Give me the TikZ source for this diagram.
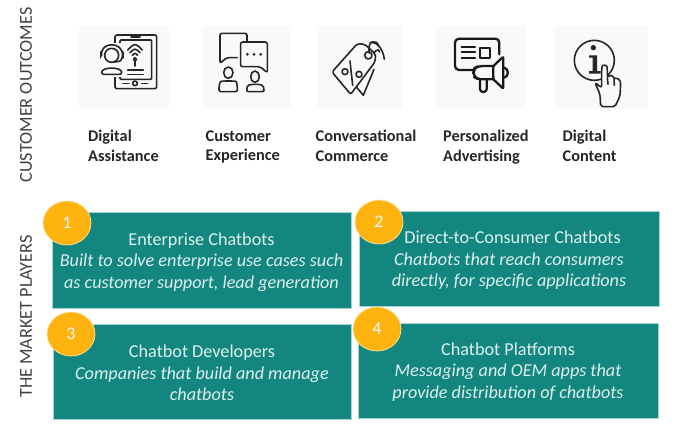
\documentclass[tikz,border=0pt]{standalone}
\usepackage{fontspec}
\setmainfont{Carlito}
\usetikzlibrary{shapes}
\definecolor{tealfill}{HTML}{138680}
\definecolor{tealedge}{HTML}{A5D6D2}
\definecolor{amberfill}{HTML}{FFB30F}
\definecolor{amberedge}{HTML}{FFE3A0}
\definecolor{tilefill}{HTML}{F9F9F9}
\definecolor{boxtext}{HTML}{DDF1EE}
\definecolor{icongrey}{HTML}{262626}
\tikzset{
  sidelabel/.style={rotate=90, font=\fontsize{18.2}{21}\selectfont, text=black!75},
  outcomelabel/.style={anchor=north west, align=left, inner sep=0, execute at begin node=\strut, font=\fontsize{16.3}{19.3}\selectfont\bfseries, text=black!85},
  playerbox/.style={draw=tealedge, line width=0.8pt, fill=tealfill, inner sep=0},
  playertext/.style={text=boxtext, align=center, inner sep=0, font=\fontsize{18.2}{21.5}\selectfont},
  numberdisc/.style={ellipse, draw=amberedge, line width=0.7pt, fill=amberfill, text=boxtext!40!white, inner sep=0,
    minimum width=48pt, minimum height=44pt, font=\fontsize{18}{21}\selectfont},
  icontile/.style={fill=tilefill, draw=none, inner sep=0},
  iconline/.style={draw=icongrey, line width=1.6pt, line join=round, line cap=round},
  iconbold/.style={draw=black!90, line width=2.3pt, line join=round, line cap=round},
}
\begin{document}
\begin{tikzpicture}[x=1pt, y=-1pt]
    \useasboundingbox (0, 0) rectangle (690, 442);
    %% side labels
    \draw (26, 95) node[sidelabel](outcomes){CUSTOMER OUTCOMES} ;
    \draw (26, 316.5) node[sidelabel](players){THE MARKET PLAYERS} ;
    %% icon tiles
    \draw (124, 67) node[icontile, minimum width=90pt, minimum height=82pt](tile0){} ;
    \draw (247, 67) node[icontile, minimum width=88pt, minimum height=82pt](tile1){} ;
    \draw (359.5, 67) node[icontile, minimum width=85pt, minimum height=82pt](tile2){} ;
    \draw (481, 67) node[icontile, minimum width=90pt, minimum height=82pt](tile3){} ;
    \draw (601.5, 67) node[icontile, minimum width=93pt, minimum height=82pt](tile4){} ;
    %% -- digital assistance
    \begin{scope}[shift={(85,26)}, scale=1/3]
        \draw[iconline, rounded corners=2pt] (90,27) rectangle (215,188) ;
        \draw[iconline, rounded corners=1pt] (105,42) rectangle (200,160) ;
        \draw[iconline] (138,33) -- (165,33) ;
        \draw[iconline] (114,172) -- (132,172) ;
        \draw[iconline] (170,172) -- (188,172) ;
        \draw[iconline] (150,172) circle[radius=7] ;
        \draw[iconline] (128,72) .. controls (150,50) .. (172,72) ;
        \draw[iconline] (135,80) .. controls (150,66) .. (165,80) ;
        \draw[iconline] (142,88) .. controls (150,80) .. (158,88) ;
        \draw[iconline] (150,100) circle[radius=5] ;
        \draw[iconline] (150,105) -- (150,120) ;
        \draw[iconline] (128,132) -- (175,132) ;
        \draw[iconline] (128,146) -- (175,146) ;
        \fill[tilefill] (40,52) rectangle (120,152) ;
        \draw[iconline] (80,88) circle[radius=21] ;
        \draw[iconline] (50,90) .. controls (42,45) and (118,45) .. (112,90) ;
        \draw[iconline] (46,78) -- (46,96) ;
        \draw[iconline] (114,78) -- (114,96) ;
        \draw[iconline] (112,92) .. controls (108,106) .. (88,108) ;
        \draw[iconline, rounded corners=2pt] (50,145) .. controls (50,122) and (110,122) .. (110,145) -- cycle ;
    \end{scope}
    %% -- customer experience
    \begin{scope}[shift={(205,26)}, scale=1/3]
        \draw[iconline, rounded corners=2pt] (126,46) -- (126,22) -- (45,22) -- (45,112) -- (65,95) -- (97,95) ;
        \draw[iconline, rounded corners=2pt] (107,48) -- (187,48) -- (187,140) -- (165,122) -- (107,122) -- cycle ;
        \fill[icongrey] (127,85) circle[radius=4.5] ;
        \fill[icongrey] (147,85) circle[radius=4.5] ;
        \fill[icongrey] (167,85) circle[radius=4.5] ;
        \draw[iconline] (70,140) ellipse[x radius=14, y radius=17] ;
        \draw[iconline, rounded corners=2pt] (42,197) -- (42,180) .. controls (46,166) .. (58,165) -- (84,165) .. controls (94,166) .. (97,180) -- (97,197) -- cycle ;
        \draw[iconline] (150,152) ellipse[x radius=13, y radius=17] ;
        \draw[iconline, rounded corners=2pt] (125,197) -- (125,188) .. controls (128,178) .. (138,175) -- (163,175) .. controls (174,178) .. (177,188) -- (177,197) -- cycle ;
    \end{scope}
    %% -- conversational commerce
    \begin{scope}[shift={(320,26)}, scale=1/3]
        \draw[iconline] (110,184) -- (130,208) -- (162,130) ;
        \draw[iconline, fill=tilefill, rounded corners=2pt] (36,138) -- (112,53) -- (135,55) -- (167,85) -- (165,108) -- (92,205) -- cycle ;
        \draw[iconline] (145,88) circle[radius=11] ;
        \draw[iconline] (148,82) .. controls (140,42) and (170,38) .. (176,60) ;
        \draw[iconline] (150,50) .. controls (175,45) and (190,75) .. (193,100) ;
        \draw[iconline] (160,82) .. controls (172,68) and (178,70) .. (178,78) ;
        \draw[iconline] (90,105) -- (98,178) ;
        \draw[iconline] (75,137) circle[radius=9] ;
        \draw[iconline] (117,145) circle[radius=9] ;
    \end{scope}
    %% -- personalized advertising
    \begin{scope}[shift={(445,26)}, scale=1/3]
        \draw[iconbold, rounded corners=4pt] (163,85) -- (163,38) -- (30,38) -- (30,132) -- (85,132) ;
        \draw[iconbold] (50,62) -- (90,62) ;
        \draw[iconbold] (50,78) -- (90,78) ;
        \draw[iconbold] (50,95) -- (90,95) ;
        \draw[iconbold] (105,65) rectangle (135,95) ;
        \draw[iconbold, rounded corners=1pt] (178,125) .. controls (192,128) and (192,152) .. (178,155) ;
        \draw[iconbold, rounded corners=3pt] (105,160) -- (105,198) -- (125,198) -- (125,160) ;
        \draw[iconbold, fill=tilefill, rounded corners=5pt] (145,120) -- (100,120) -- (85,128) -- (85,152) -- (100,160) -- (145,160) ;
        \draw[iconbold, rounded corners=1pt] (145,120) -- (175,92) -- (175,188) -- (145,160) -- cycle ;
    \end{scope}
    %% -- digital content
    \begin{scope}[shift={(560,26)}, scale=1/3]
        \draw[iconline] (103,103) circle[radius=60] ;
        \fill[icongrey] (100,65) circle[radius=8] ;
        \fill[icongrey] (87,88) -- (111,88) -- (111,135) -- (122,135) -- (122,143) -- (87,143) -- (87,135) -- (98,135) -- (98,95) -- (87,95) -- cycle ;
        \draw[iconline, fill=tilefill, rounded corners=2pt] (122,242) -- (120,205) -- (105,170) -- (125,185) -- (125,128) .. controls (127,116) and (140,116) .. (142,128) -- (142,155)
            .. controls (150,146) and (160,148) .. (162,160) .. controls (170,155) and (180,160) .. (182,172) -- (180,210) -- (165,242) -- cycle ;
        \draw[iconline] (142,155) -- (144,175) ;
        \draw[iconline] (162,160) -- (163,178) ;
    \end{scope}
    %% outcome labels
    \draw (88, 130.2) node[outcomelabel](label0){Digital\\Assistance} ;
    \draw (205.5, 130.2) node[outcomelabel](label1){Customer\\Experience} ;
    \draw (315.5, 130.2) node[outcomelabel](label2){Conversational\\Commerce} ;
    \draw (443, 130.2) node[outcomelabel](label3){Personalized\\Advertising} ;
    \draw (562.5, 130.2) node[outcomelabel](label4){Digital\\Content} ;
    %% market player boxes
    \draw (201.5, 260) node[playerbox, minimum width=299pt, minimum height=96pt](box1){} ;
    \draw (509, 258.5) node[playerbox, minimum width=300pt, minimum height=95pt](box2){} ;
    \draw (202, 371.5) node[playerbox, minimum width=298pt, minimum height=95pt](box3){} ;
    \draw (508, 370.5) node[playerbox, minimum width=300pt, minimum height=95pt](box4){} ;
    %% -- box texts
    \draw (201.5, 261.8) node[playertext](text1){Enterprise Chatbots\\\itshape Built to solve enterprise use cases such\\\itshape as customer support, lead generation} ;
    \draw (509, 260.3) node[playertext](text2){\hspace*{7pt}Direct-to-Consumer Chatbots\\\itshape Chatbots that reach consumers\\\itshape directly, for specific applications} ;
    \draw (202, 373) node[playertext](text3){Chatbot Developers\\\itshape Companies that build and manage\\\itshape chatbots} ;
    \draw (508, 372) node[playertext](text4){Chatbot Platforms\\\itshape Messaging and OEM apps that\\\itshape provide distribution of chatbots} ;
    %% number discs
    \draw (67, 223) node[numberdisc](disc1){1} ;
    \draw (379, 222) node[numberdisc](disc2){2} ;
    \draw (71, 334) node[numberdisc](disc3){3} ;
    \draw (377, 329) node[numberdisc](disc4){4} ;
\end{tikzpicture}
\end{document}
